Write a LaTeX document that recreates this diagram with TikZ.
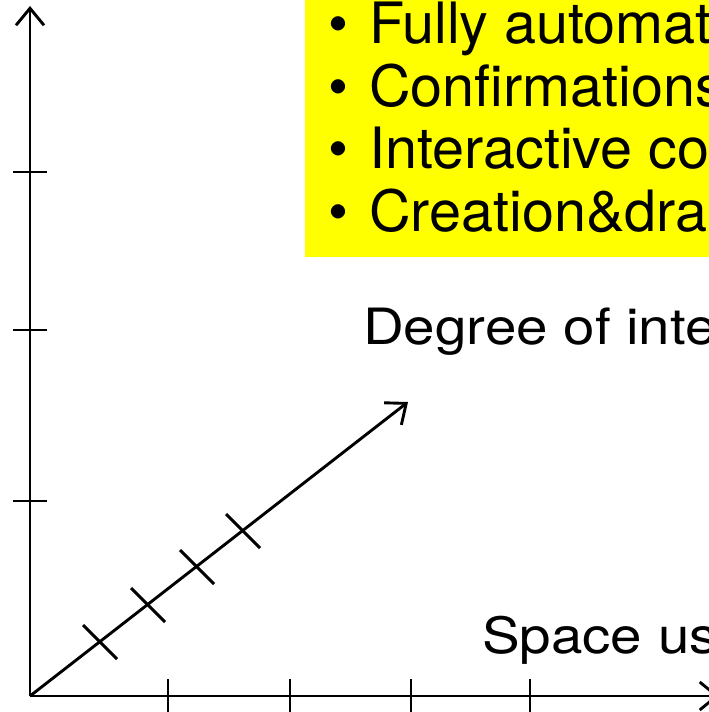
\documentclass[tikz,border=0pt]{standalone}
\usepackage{fontspec}
\setmainfont{TeX Gyre Heros}
\usetikzlibrary{arrows.meta}
\definecolor{boxyellow}{RGB}{255,255,0}
\begin{document}
\begin{tikzpicture}[x=1pt,y=-1pt,
  axis/.style={line width=2.9pt},
  tickline/.style={line width=2.9pt},
  arr/.style={-{Straight Barb[length=17pt,width=28pt]}},
  bl/.style={font=\fontsize{57}{62}\selectfont, inner sep=0pt, anchor=base west},
  bul/.style={font=\fontsize{57}{62}\selectfont, inner sep=0pt, anchor=base},
  lab/.style={font=\fontsize{50}{60}\selectfont, inner sep=0pt, anchor=base west}]
\useasboundingbox (0,0) rectangle (709,712);
\clip (0,0) rectangle (709,712);
% yellow box
\fill[boxyellow] (305,-5) rectangle (730,257);
\node[bul] (b1) at (338,43.5) {•};
\node[bul] (b2) at (338,106) {•};
\node[bul] (b3) at (338,168.5) {•};
\node[bul] (b4) at (338,231) {•};
\node[bl] (t1) at (369,43.5) {\scalebox{1.01}[1]{Fully automati}};
\node[bl] (t2) at (369,106) {\scalebox{1.01}[1]{Confirmations}};
\node[bl] (t3) at (369,168.5) {\scalebox{1.01}[1]{Interactive co}};
\node[bl] (t4) at (369,231) {\scalebox{1.01}[1]{Creation\&dra}};
% axes
\coordinate (O) at (30,696);
\coordinate (ytip) at (30,6);
\coordinate (xtip) at (719,696);
\coordinate (dtip) at (408,402);
\draw[axis,arr] (O) -- (ytip);
\draw[axis,arr] (O) -- (xtip);
\draw[axis,arr] (O) -- (dtip);
% y ticks
\foreach \y/\n in {172/ya,330/yb,501/yc}{
  \coordinate (\n) at (30,\y);
  \draw[tickline] ([xshift=-17pt]\n) -- ([xshift=17pt]\n);
}
% x ticks
\foreach \x/\n in {168/xa,290/xb,411/xc,530/xd}{
  \coordinate (\n) at (\x,696);
  \draw[tickline] ([yshift=17pt]\n) -- ([yshift=-17pt]\n);
}
% diagonal ticks
\foreach \x/\y/\n in {100/642/da,148/605/db,197/567/dc,243/531/dd}{
  \coordinate (\n) at (\x,\y);
  \draw[tickline] ([xshift=-17pt,yshift=17pt]\n) -- ([xshift=17pt,yshift=-17pt]\n);
}
\node[lab] (deg) at (363,344.5) {\scalebox{1.13}[1]{Degree of inte}};
\node[lab] (spc) at (482,653) {\scalebox{1.13}[1]{Space us}};
\end{tikzpicture}
\end{document}
